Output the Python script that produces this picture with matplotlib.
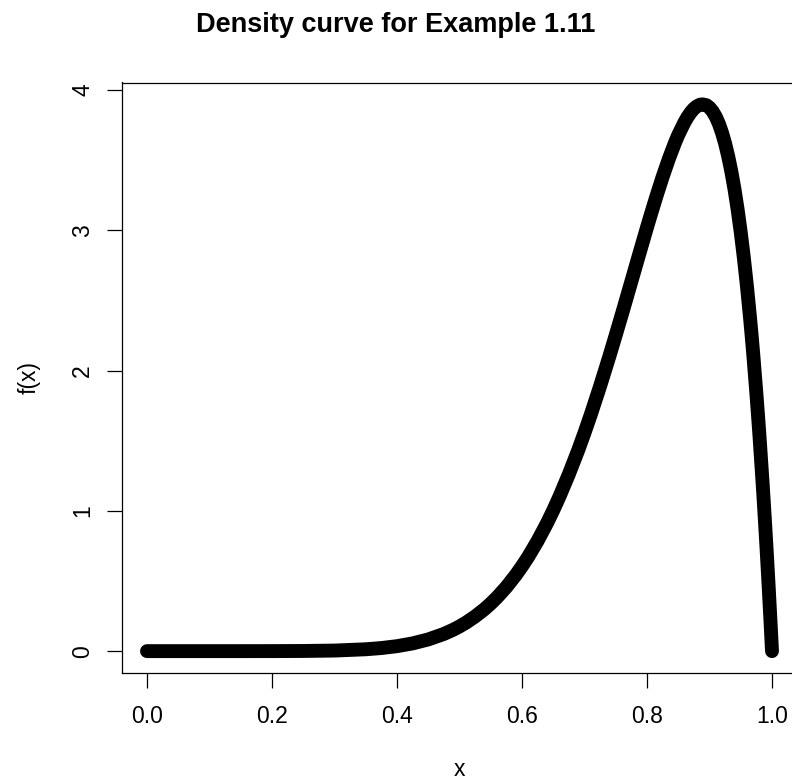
import matplotlib
matplotlib.use("Agg")
import matplotlib.pyplot as plt

plt.rcParams["font.family"] = ["Liberation Sans", "DejaVu Sans"]

# density values
x_vals = [0.0, 0.05, 0.1, 0.15, 0.2, 0.25, 0.3, 0.35, 0.375, 0.4, 0.425, 0.45, 0.475,
          0.49, 0.5, 0.51, 0.525, 0.54, 0.55, 0.56, 0.575, 0.59, 0.6, 0.61, 0.625,
          0.64, 0.65, 0.66, 0.675, 0.69, 0.7, 0.71, 0.725, 0.74, 0.75, 0.76, 0.775,
          0.79, 0.8, 0.805, 0.815, 0.825, 0.835, 0.845, 0.85, 0.86, 0.865, 0.87,
          0.875, 0.88, 0.885, 0.889, 0.895, 0.9, 0.905, 0.91, 0.915, 0.92, 0.925,
          0.93, 0.935, 0.94, 0.945, 0.95, 0.955, 0.96, 0.965, 0.9675, 0.97, 0.975,
          0.9775, 0.98, 0.985, 0.9875, 0.99, 0.9925, 0.995, 0.998, 0.999, 1.0]
fx_vals = [0.0, 0.0, 0.0, 0.0, 0.0002, 0.0011, 0.0041, 0.0132, 0.0220, 0.0354, 0.0551,
           0.0833, 0.1225, 0.1525, 0.176, 0.2018, 0.247, 0.2993, 0.339, 0.383, 0.457,
           0.542, 0.605, 0.673, 0.786, 0.912, 1.004, 1.102, 1.261, 1.433, 1.556, 1.685,
           1.889, 2.104, 2.253, 2.404, 2.635, 2.867, 3.020, 3.095, 3.241, 3.380, 3.509,
           3.626, 3.679, 3.770, 3.808, 3.840, 3.866, 3.884, 3.895, 3.897, 3.891, 3.874,
           3.847, 3.809, 3.759, 3.695, 3.618, 3.525, 3.417, 3.292, 3.148, 2.985, 2.802,
           2.597, 2.369, 2.246, 2.116, 1.837, 1.688, 1.531, 1.196, 1.017, 0.830, 0.636,
           0.432, 0.177, 0.089, 0.0]

x_ticks = [0.0, 0.2, 0.4, 0.6, 0.8, 1.0]
x_ticklabels = ["0.0", "0.2", "0.4", "0.6", "0.8", "1.0"]
y_ticks = [0, 1, 2, 3, 4]

fig = plt.figure(figsize=(7.92, 7.83), dpi=100)
ax = fig.add_axes([122 / 792, 1 - 673 / 783, 675 / 792, 590.5 / 783])

ax.plot(x_vals, fx_vals, color="black", lw=10, solid_capstyle="round",
        solid_joinstyle="round")

ymax = max(fx_vals)
ax.set_xlim(-0.04, 1.04)
ax.set_ylim(-0.04 * ymax, 1.04 * ymax)

ax.set_xticks(x_ticks)
ax.set_xticklabels(x_ticklabels)
ax.set_yticks(y_ticks)
ax.set_yticklabels([str(v) for v in y_ticks], rotation=90, va="center")
ax.tick_params(direction="out", length=11, width=0.9, labelsize=16.5, colors="black")
ax.tick_params(axis="x", pad=12)
ax.tick_params(axis="y", pad=9)
for s in ax.spines.values():
    s.set_linewidth(0.9)

ax.set_xlabel("x", fontsize=16.5, labelpad=22)
ax.set_ylabel("f(x)", fontsize=16.5, labelpad=22)
fig.text(0.5, 1 - 25 / 783, "Density curve for Example 1.11", ha="center", va="center",
         fontsize=19.5, fontweight="bold")

fig.savefig("out.png", dpi=100)
